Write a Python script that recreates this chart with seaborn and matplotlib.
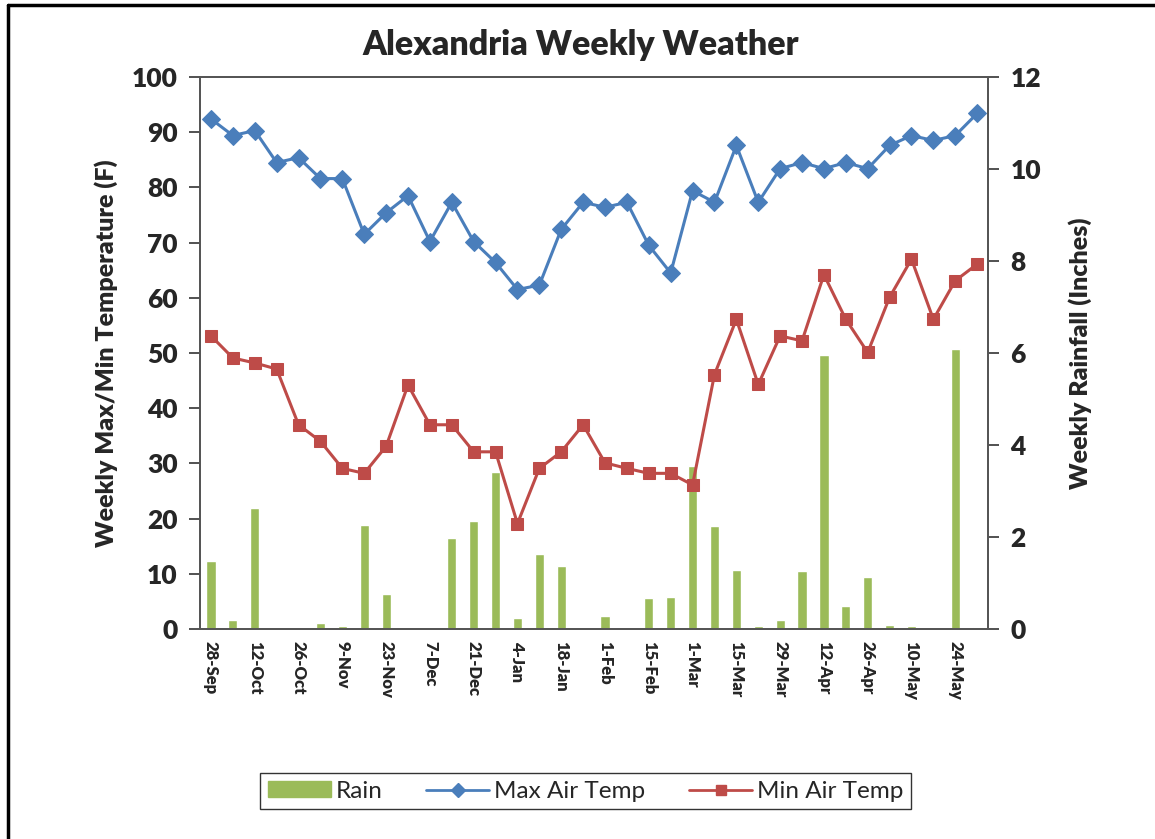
import numpy as np
import pandas as pd
import seaborn as sns
import matplotlib.pyplot as plt
from matplotlib.patches import Patch
from matplotlib.lines import Line2D

# weekly data
weeks = ["28-Sep", "5-Oct", "12-Oct", "19-Oct", "26-Oct", "2-Nov", "9-Nov", "16-Nov",
         "23-Nov", "30-Nov", "7-Dec", "14-Dec", "21-Dec", "28-Dec", "4-Jan", "11-Jan",
         "18-Jan", "25-Jan", "1-Feb", "8-Feb", "15-Feb", "22-Feb", "1-Mar", "8-Mar",
         "15-Mar", "22-Mar", "29-Mar", "5-Apr", "12-Apr", "19-Apr", "26-Apr", "3-May",
         "10-May", "17-May", "24-May", "31-May"]
max_temp = [92.4, 89.4, 90.3, 84.5, 85.4, 81.6, 81.6, 71.5, 75.4, 78.5, 70.2, 77.3,
            70.2, 66.4, 61.5, 62.3, 72.4, 77.3, 76.4, 77.3, 69.5, 64.5, 79.4, 77.3,
            87.6, 77.3, 83.4, 84.5, 83.4, 84.5, 83.4, 87.6, 89.4, 88.5, 89.4, 93.4]
min_temp = [53.1, 49.1, 48.2, 47.1, 37.0, 34.0, 29.1, 28.2, 33.1, 44.2, 37.0, 37.0,
            32.1, 32.1, 19.1, 29.1, 32.1, 37.0, 30.1, 29.1, 28.2, 28.2, 26.1, 46.1,
            56.1, 44.3, 53.1, 52.2, 64.2, 56.1, 50.1, 60.1, 67.0, 56.1, 63.1, 66.1]
rain = [1.47, 0.20, 2.62, 0.0, 0.03, 0.12, 0.06, 2.26, 0.76, 0.03, 0.0, 1.98,
        2.35, 3.41, 0.23, 1.64, 1.37, 0.0, 0.28, 0.0, 0.67, 0.70, 3.54, 2.24,
        1.29, 0.06, 0.20, 1.26, 5.95, 0.50, 1.12, 0.09, 0.06, 0.0, 6.09, 0.04]

df = pd.DataFrame({"week": weeks, "pos": np.arange(len(weeks)),
                   "max": max_temp, "min": min_temp, "rain": rain})

blue = "#4A7EBB"
red = "#BE4B48"
green = "#9BBB59"

sns.set_style("white")
plt.rcParams["font.family"] = ["Lato", "DejaVu Sans"]

fig = plt.figure(figsize=(11.55, 8.39), dpi=100)
ax = fig.add_axes([0.1732, 0.2503, 0.6823, 0.6579])
ax2 = ax.twinx()

# rain bars on the secondary axis, temps drawn above them
sns.barplot(data=df, x="pos", y="rain", color=green, saturation=1, width=0.42,
            native_scale=True, ax=ax2)
ax.set_zorder(ax2.get_zorder() + 1)
ax.patch.set_visible(False)

sns.lineplot(data=df, x="pos", y="max", color=blue, marker="D", markersize=9,
             markeredgecolor=blue, linewidth=2.2, ax=ax)
sns.lineplot(data=df, x="pos", y="min", color=red, marker="s", markersize=8.5,
             markeredgecolor=red, linewidth=2.2, ax=ax)

ax.set_xlim(-0.5, len(weeks) - 0.5)
ax.set_ylim(0, 100)
ax2.set_ylim(0, 12)
ax.set_yticks(range(0, 101, 10))
ax2.set_yticks(range(0, 13, 2))

ax.set_xticks(df["pos"][::2])
ax.set_xticklabels(df["week"][::2], rotation=-90, fontweight="heavy", fontsize=12)
ax.set_xticks(np.arange(-0.5, len(weeks), 1), minor=True)
ax.tick_params(axis="x", which="major", length=0, pad=9)
ax.tick_params(axis="x", which="minor", length=6, width=1.2, color="#333333", direction="out")
ax.tick_params(axis="y", length=8, width=1.2, color="#333333", direction="out",
               labelsize=19, left=True, pad=8)
ax2.tick_params(axis="y", length=8, width=1.2, color="#333333", direction="out",
                labelsize=19, right=True, pad=8)
for lab in ax.get_yticklabels() + ax2.get_yticklabels():
    lab.set_fontweight("heavy")
ax2.set_xlabel("")

for a in (ax, ax2):
    for s in a.spines.values():
        s.set_color("#555555")
        s.set_linewidth(1.3)

ax.set_xlabel("")
ax.set_ylabel("Weekly Max/Min Temperature (F)", fontsize=18, fontweight="heavy")
ax2.set_ylabel("Weekly Rainfall (Inches)", fontsize=18, fontweight="heavy")
ax.yaxis.set_label_coords(-0.104, 0.5)
ax2.yaxis.set_label_coords(1.1015, 0.5)

fig.text(0.503, 0.946, "Alexandria Weekly Weather", ha="center", va="center",
         fontsize=24.5, fontweight="heavy")

handles = [Patch(facecolor=green, edgecolor=green),
           Line2D([], [], color=blue, marker="D", markersize=7, linewidth=2),
           Line2D([], [], color=red, marker="s", markersize=7, linewidth=2)]
leg = fig.legend(handles, ["Rain", "Max Air Temp", "Min Air Temp"], ncol=3,
                 loc="center", bbox_to_anchor=(0.507, 0.057), fontsize=17.5,
                 frameon=True, fancybox=False, edgecolor="black", handlelength=2.6,
                 handleheight=0.6, columnspacing=1.8, handletextpad=0.2,
                 borderpad=0.3)
leg.get_frame().set_linewidth(1.0)

# partial chart frame, left and top edges
fig.add_artist(Line2D([0.0065, 0.0065], [0, 0.9946], color="black", linewidth=2.5,
                      transform=fig.transFigure))
fig.add_artist(Line2D([0.0065, 1.0], [0.9946, 0.9946], color="black", linewidth=2.5,
                      transform=fig.transFigure))

fig.savefig("out.png", dpi=100)
